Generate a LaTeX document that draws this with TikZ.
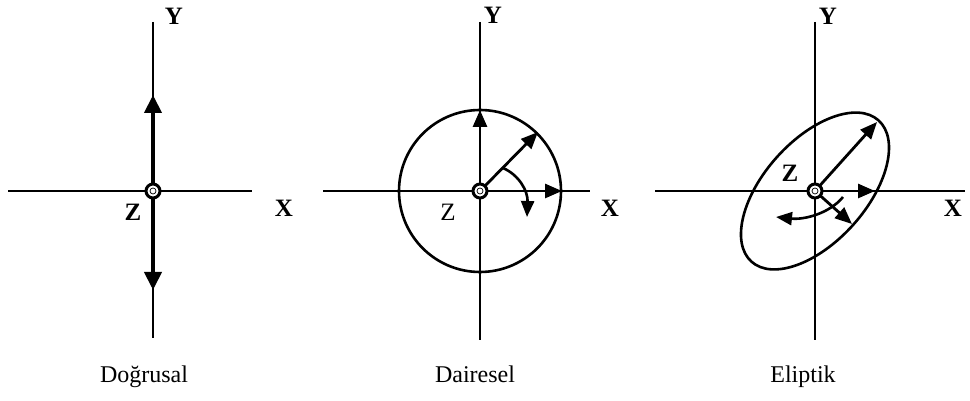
\documentclass[tikz,border=0pt]{standalone}
\usepackage{fontspec}
\setmainfont{Liberation Serif}
\usetikzlibrary{arrows.meta}
\begin{document}
\begin{tikzpicture}[x=1pt,y=1pt,
  axis/.style={line width=2pt},
  bigvec/.style={line width=4pt,-{Triangle[length=18pt,width=17pt]}},
  vec/.style={line width=2.8pt,-{Triangle[length=17pt,width=14pt]}},
  curve/.style={line width=2.6pt,-{Triangle[length=16pt,width=13pt]}},
  ring/.style={line width=2.6pt},
  ctr/.style={circle,draw,line width=3pt,fill=white,minimum size=14pt,inner sep=0pt},
  dotring/.style={line width=0.7pt},
  axlbl/.style={font=\fontsize{25}{28}\selectfont\bfseries,inner sep=0pt},
  zlbl/.style={font=\fontsize{25}{28}\selectfont,inner sep=0pt},
  captxt/.style={font=\fontsize{24}{28}\selectfont,inner sep=0pt,anchor=base}]
\useasboundingbox (0,0) rectangle (970,401);
% ---------- Panel 1 ----------
\coordinate (a1t) at (153,379);
\coordinate (a1b) at (153,63);
\coordinate (a1l) at (8,210);
\coordinate (a1r) at (252,210);
\draw[axis] (a1t) -- (a1b);
\draw[axis] (a1l) -- (a1r);
\coordinate (u1) at (153,306);
\coordinate (d1) at (153,111);
\coordinate (c1) at (153,210);
\draw[bigvec] (c1) -- (u1);
\draw[bigvec] (c1) -- (d1);
\node[ctr] (o1) at (c1) {};
\draw[dotring] (o1.center) circle (3);
\node[axlbl] (y1) at (174,385) {Y};
\node[axlbl] (x1) at (284,193) {X};
\node[axlbl] (z1) at (133,189) {Z};
\node[captxt] (t1) at (144,18) {Doğrusal};
% ---------- Panel 2 ----------
\coordinate (c2) at (480,210);
\coordinate (a2t) at (480,379);
\coordinate (a2b) at (480,61);
\coordinate (a2l) at (323,210);
\coordinate (a2r) at (590,210);
\draw[axis] (a2t) -- (a2b);
\draw[axis] (a2l) -- (a2r);
\draw[ring] (c2) circle (81);
\coordinate (u2) at (480,291);
\coordinate (g2) at (538,269);
\coordinate (r2) at (562,210);
\draw[vec] (c2) -- (u2);
\draw[vec] (c2) -- (g2);
\draw[vec] (c2) -- (r2);
\coordinate (s2) at (503,233);
\coordinate (e2) at (527,184);
\draw[curve] (s2) .. controls (519,226) and (528,210) .. (e2);
\node[ctr] (o2) at (c2) {};
\draw[dotring] (o2.center) circle (3);
\node[axlbl] (y2) at (493,386) {Y};
\node[axlbl] (x2) at (610,193) {X};
\node[zlbl] (z2) at (448,189) {Z};
\node[captxt] (t2) at (475,18) {Dairesel};
% ---------- Panel 3 ----------
\coordinate (c3) at (815,210);
\coordinate (a3t) at (815,379);
\coordinate (a3b) at (815,61);
\coordinate (a3l) at (655,210);
\coordinate (a3r) at (965,210);
\draw[axis] (a3t) -- (a3b);
\draw[axis] (a3l) -- (a3r);
\draw[ring,rotate around={48:(c3)}] (c3) ellipse (95 and 51);
\coordinate (g3) at (877,279);
\coordinate (m3) at (852,177);
\coordinate (r3) at (875,210);
\draw[vec] (c3) -- (g3);
\draw[vec] (c3) -- (m3);
\draw[vec] (c3) -- (r3);
\coordinate (s3) at (843,204);
\coordinate (e3) at (776,184);
\draw[curve] (s3) .. controls (830,188) and (805,181) .. (e3);
\node[ctr] (o3) at (c3) {};
\draw[dotring] (o3.center) circle (3);
\node[axlbl] (y3) at (828,385) {Y};
\node[axlbl] (x3) at (953,193) {X};
\node[axlbl] (z3) at (790,228) {Z};
\node[captxt] (t3) at (803,18) {Eliptik};
\end{tikzpicture}
\end{document}
